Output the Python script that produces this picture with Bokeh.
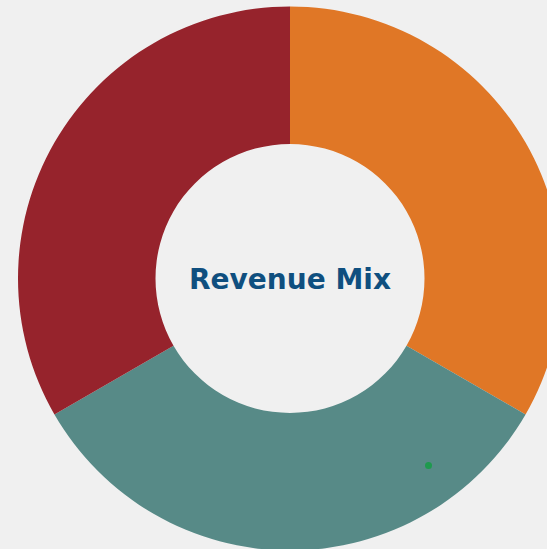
import math
from bokeh.plotting import figure
from bokeh.models import Range1d, ColumnDataSource, GlobalInlineStyleSheet
from bokeh.core.properties import value
from bokeh.embed import file_html
from bokeh.resources import INLINE

# Data
segments = ["Product", "Services", "Other"]
shares = [1.0, 1.0, 1.0]
colors = ["#E07726", "#578A87", "#96232C"]
title_text = "Revenue Mix"

# Geometry (screen-pixel data units)
cx, cy = 289.5, -278.0
outer_r, inner_r = 272.0, 134.5

total = sum(shares)
starts, ends = [], []
acc = 0.0
for s in shares:
    a0 = math.pi / 2 - 2 * math.pi * acc / total
    acc += s
    a1 = math.pi / 2 - 2 * math.pi * acc / total
    starts.append(a0)
    ends.append(a1)

src = ColumnDataSource(dict(seg=segments, start=starts, end=ends, color=colors,
                            x=[cx] * 3, y=[cy] * 3))

css = GlobalInlineStyleSheet(css="html, body { background: #F0F0F0; overflow: hidden; margin: 0; }")

p = figure(width=547, height=549, output_backend="svg", toolbar_location=None,
           x_range=Range1d(0, 547), y_range=Range1d(-549, 0),
           min_border=0, outline_line_color=None,
           background_fill_color="#F0F0F0", border_fill_color="#F0F0F0",
           stylesheets=[css])
p.axis.visible = False
p.grid.visible = False

p.annular_wedge(x="x", y="y", inner_radius=inner_r, outer_radius=outer_r,
                start_angle="start", end_angle="end", direction="clock",
                fill_color="color", line_color=None, source=src)

p.scatter([428], [-465], size=7, fill_color="#1E9A4E", line_color=None)

p.text([cx], [cy - 1], text=[title_text], text_align="center", text_baseline="middle",
       text_font=value("DejaVu Sans"), text_font_style="bold", text_font_size="28px",
       text_color="#0F4F7F")

open("out.html", "w").write(file_html(p, INLINE))
